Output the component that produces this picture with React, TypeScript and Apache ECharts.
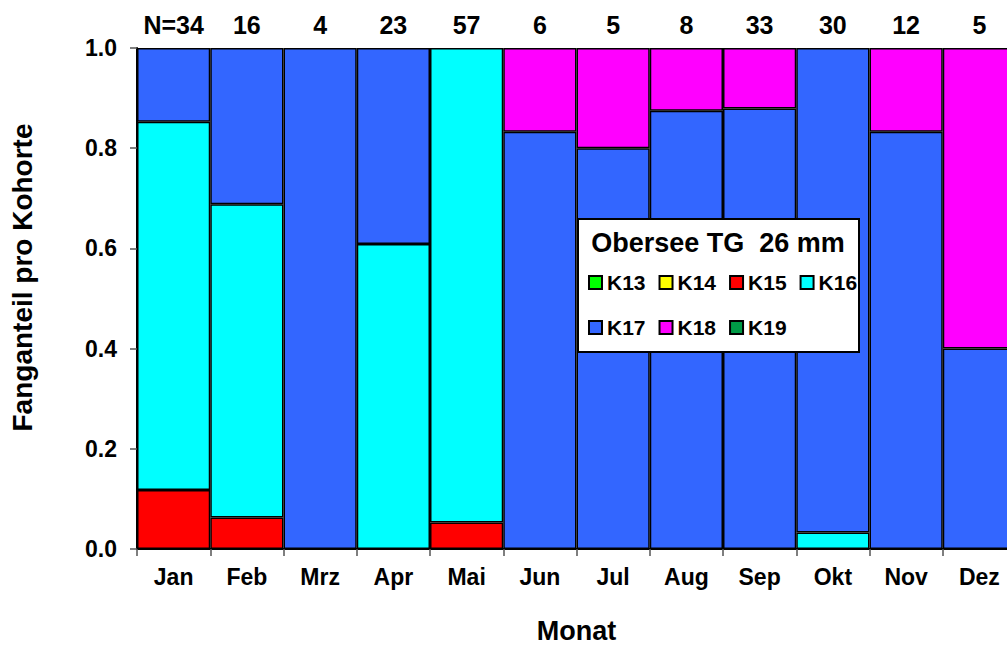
import React, { useEffect, useRef } from "react";
import * as echarts from "echarts";

const months = ["Jan", "Feb", "Mrz", "Apr", "Mai", "Jun", "Jul", "Aug", "Sep", "Okt", "Nov", "Dez"];
const nLabels = ["N=34", "16", "4", "23", "57", "6", "5", "8", "33", "30", "12", "5"];
const yTicks = [0, 0.2, 0.4, 0.6, 0.8, 1.0];

const k13 = [0, 0, 0, 0, 0, 0, 0, 0, 0, 0, 0, 0];
const k14 = [0, 0, 0, 0, 0, 0, 0, 0, 0, 0, 0, 0];
const k15 = [0.118, 0.063, 0, 0, 0.053, 0, 0, 0, 0, 0, 0, 0];
const k16 = [0.735, 0.625, 0, 0.609, 0.947, 0, 0, 0, 0, 0.033, 0, 0];
const k17 = [0.147, 0.312, 1.0, 0.391, 0, 0.833, 0.8, 0.875, 0.879, 0.967, 0.833, 0.4];
const k18 = [0, 0, 0, 0, 0, 0.167, 0.2, 0.125, 0.121, 0, 0.167, 0.6];
const k19 = [0, 0, 0, 0, 0, 0, 0, 0, 0, 0, 0, 0];

const seriesDefs = [
  { name: "K13", data: k13, color: "#00FF00" },
  { name: "K14", data: k14, color: "#FFFF00" },
  { name: "K15", data: k15, color: "#FF0000" },
  { name: "K16", data: k16, color: "#00FFFF" },
  { name: "K17", data: k17, color: "#3366FF" },
  { name: "K18", data: k18, color: "#FF00FF" },
  { name: "K19", data: k19, color: "#009A46" },
];

const FONT = "'Liberation Sans', Arial, sans-serif";

export default function App() {
  const ref = useRef<HTMLDivElement>(null);
  useEffect(() => {
    if (!ref.current) return;
    const chart = echarts.init(ref.current, undefined, { renderer: "svg" });
    const legendText = { fontSize: 21, fontWeight: "bold", color: "#000", fontFamily: FONT };
    const option = {
      animation: false,
      backgroundColor: "#ffffff",
      textStyle: { fontFamily: FONT },
      grid: { left: 137, top: 48, bottom: 97, right: 0 },
      xAxis: [
        {
          type: "category",
          data: months,
          position: "bottom",
          axisLine: { show: true, lineStyle: { color: "#000", width: 2 } },
          axisTick: { show: true, length: 7, lineStyle: { color: "#555", width: 1.5 } },
          axisLabel: { interval: 0, margin: 16, fontSize: 23, fontWeight: "bold", color: "#000", fontFamily: FONT },
          name: "Monat",
          nameLocation: "middle",
          nameGap: 68,
          nameTextStyle: { fontSize: 27, fontWeight: "bold", color: "#000", fontFamily: FONT },
        },
        {
          type: "category",
          data: nLabels,
          position: "top",
          axisLine: { show: false },
          axisTick: { show: false },
          axisLabel: { interval: 0, margin: 11, fontSize: 25, fontWeight: "bold", color: "#000", fontFamily: FONT },
        },
      ],
      yAxis: {
        type: "value",
        min: 0,
        max: 1,
        interval: 0.2,
        splitLine: { show: false },
        axisLine: { show: true, lineStyle: { color: "#000", width: 2 } },
        axisTick: { show: true, length: 7, lineStyle: { color: "#555", width: 1.5 } },
        axisLabel: {
          margin: 20,
          fontSize: 23,
          fontWeight: "bold",
          color: "#000",
          fontFamily: FONT,
          formatter: (v: number) => (yTicks.some((t) => Math.abs(t - v) < 1e-6) ? v.toFixed(1) : ""),
        },
        name: "Fanganteil pro Kohorte",
        nameLocation: "middle",
        nameGap: 101,
        nameTextStyle: {
          fontSize: 28,
          fontWeight: "bold",
          color: "#000",
          fontFamily: FONT,
          padding: [0, 0, 0, 42],
        },
      },
      legend: [
        {
          data: ["K13", "K14", "K15", "K16"],
          left: 588,
          top: 272,
          orient: "horizontal",
          icon: "rect",
          itemWidth: 13,
          itemHeight: 13,
          itemGap: 13,
          padding: 0,
          z: 20,
          selectedMode: false,
          textStyle: legendText,
        },
        {
          data: ["K17", "K18", "K19"],
          left: 588,
          top: 317,
          orient: "horizontal",
          icon: "rect",
          itemWidth: 13,
          itemHeight: 13,
          itemGap: 13,
          padding: 0,
          z: 20,
          selectedMode: false,
          textStyle: legendText,
        },
      ],
      graphic: [
        {
          type: "rect",
          z: 10,
          shape: { x: 578, y: 219, width: 281, height: 133 },
          style: { fill: "#fff", stroke: "#000", lineWidth: 2 },
        },
        {
          type: "text",
          z: 11,
          x: 718,
          y: 243,
          style: {
            text: "Obersee TG  26 mm",
            fontSize: 27,
            fontWeight: "bold",
            fontFamily: FONT,
            fill: "#000",
            align: "center",
            verticalAlign: "middle",
          },
        },
      ],
      series: seriesDefs.map((s) => ({
        name: s.name,
        type: "bar",
        stack: "total",
        barCategoryGap: "0%",
        xAxisIndex: 0,
        data: s.data.map((v) => (v === 0 ? null : v)),
        itemStyle: { color: s.color, borderColor: "#000", borderWidth: 1.5 },
      })),
    };
    chart.setOption(option);
    return () => chart.dispose();
  }, []);
  return (
    <div
      style={{ position: "fixed", left: 0, top: 0, width: 1007, height: 649, overflow: "hidden", background: "#fff" }}
    >
      <div ref={ref} style={{ width: 1016, height: 649 }} />
    </div>
  );
}
